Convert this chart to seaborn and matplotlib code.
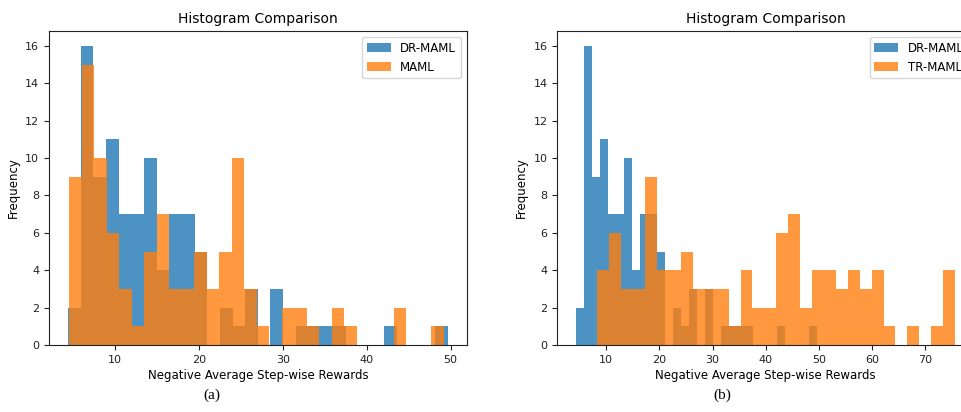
import numpy as np
import pandas as pd
import seaborn as sns
import matplotlib
matplotlib.use("Agg")
import matplotlib.pyplot as plt

# histogram counts (30 bins each)
dr_maml_counts = [2, 16, 9, 11, 7, 7, 10, 4, 7, 7, 5, 0, 2, 1, 3, 0, 3, 0, 1, 1,
                  1, 1, 0, 0, 0, 1, 0, 0, 0, 1]
dr_maml_range = (4.38, 49.65)

maml_counts = [9, 15, 10, 6, 3, 1, 5, 7, 3, 3, 5, 3, 5, 10, 3, 1, 0, 2, 2, 1,
               0, 2, 1, 0, 0, 0, 2, 0, 0, 1]
maml_range = (4.55, 49.2)

tr_maml_counts = [4, 6, 3, 3, 9, 4, 4, 5, 3, 3, 3, 1, 4, 2, 2, 6, 7, 2, 4, 4,
                  3, 4, 3, 4, 1, 0, 1, 0, 1, 4]
tr_maml_range = (8.37, 75.6)

panels = [
    ("DR-MAML", dr_maml_counts, dr_maml_range, "MAML", maml_counts, maml_range, "(a)"),
    ("DR-MAML", dr_maml_counts, dr_maml_range, "TR-MAML", tr_maml_counts, tr_maml_range, "(b)"),
]

sns.set_theme(style="ticks")
plt.rcParams['font.family'] = ['DejaVu Sans']
plt.rcParams['axes.edgecolor'] = '#222222'
plt.rcParams['text.color'] = 'black'
plt.rcParams['axes.labelcolor'] = 'black'
plt.rcParams['xtick.color'] = '#222222'
plt.rcParams['ytick.color'] = '#222222'


def draw_hist(ax, counts, rng, color, label):
    edges = np.linspace(rng[0], rng[1], len(counts) + 1)
    df = pd.DataFrame({"value": (edges[:-1] + edges[1:]) / 2, "count": counts})
    sns.histplot(data=df, x="value", weights="count", bins=list(edges), color=color,
                 alpha=0.8, linewidth=0, label=label, ax=ax)


fig = plt.figure(figsize=(9.62, 4.12), dpi=100)
ax_pos = [[0.0509, 0.1626, 0.4342, 0.7621], [0.5793, 0.1626, 0.4332, 0.7621]]
cap_x = [0.220, 0.751]

for i, (n1, c1, r1, n2, c2, r2, cap) in enumerate(panels):
    ax = fig.add_axes(ax_pos[i])
    draw_hist(ax, c1, r1, "#1f77b4", n1)
    draw_hist(ax, c2, r2, "#ff7f0e", n2)
    ax.set_title("Histogram Comparison", fontsize=10, pad=6)
    ax.set_xlabel("Negative Average Step-wise Rewards", fontsize=8.5, labelpad=3)
    ax.set_ylabel("Frequency", fontsize=8.5, labelpad=4)
    ax.tick_params(labelsize=8, length=3.5, width=0.8)
    ax.set_yticks(range(0, 17, 2))
    for s in ax.spines.values():
        s.set_linewidth(0.8)
    ax.legend(loc="upper right", fontsize=8.5, frameon=True, fancybox=True,
              edgecolor="#cccccc", framealpha=0.8)
    fig.text(cap_x[i], 0.025, cap, family="Liberation Serif", fontsize=11,
             ha="center", va="bottom")

fig.savefig("out.png", dpi=100)
